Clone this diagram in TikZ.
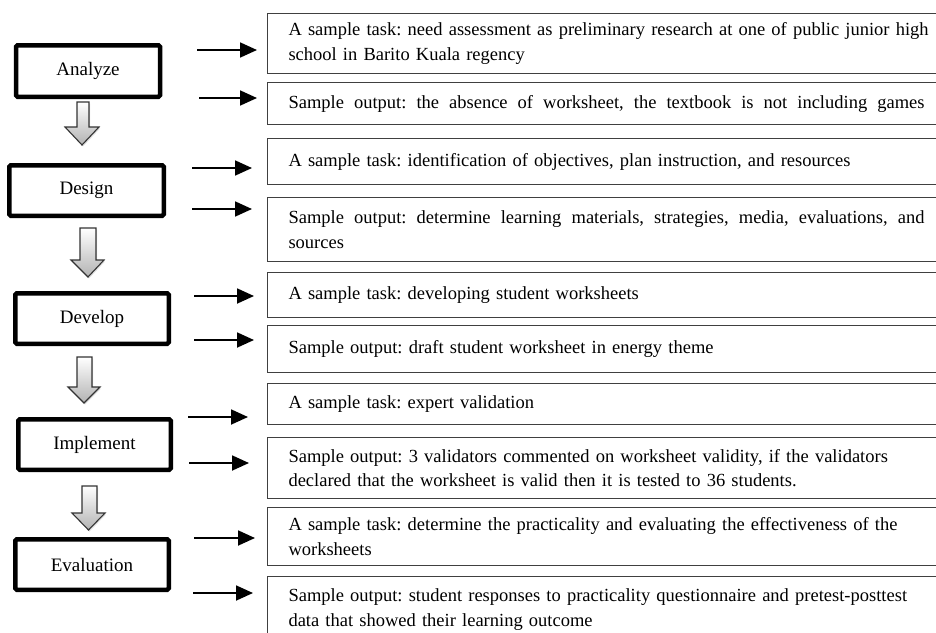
\documentclass[tikz,border=0pt]{standalone}
\usepackage{fontspec}
\setmainfont{Liberation Serif}
\usetikzlibrary{shadows,arrows.meta}
\begin{document}
\begin{tikzpicture}[x=1pt,y=-1pt,
  phase/.style={draw=black, line width=4.5pt, rounded corners=1.5pt, fill=white,
    font=\fontsize{19}{22}\selectfont, inner sep=0pt,
    drop shadow={shadow xshift=1.5pt, shadow yshift=-1.5pt, opacity=0.3}},
  rbox/.style={draw=black!75, line width=1pt, anchor=north west, fill=white,
    text width=655pt, inner xsep=21pt, inner ysep=0pt,
    font=\fontsize{18.5}{24.5}\selectfont\frenchspacing, align=left},
  jbox/.style={rbox, text width=636pt, align=justify},
  rarrow/.style={line width=1.8pt, -{Triangle[length=17pt,width=15pt]}},
  downarrow/.style={draw=black!80, line width=1.1pt, top color=white, bottom color=black!30,
    drop shadow={shadow xshift=1pt, shadow yshift=-1.5pt, opacity=0.25}}
]
\useasboundingbox (0,0) rectangle (936,632);
\clip (0,0) rectangle (936,632);

% left phase boxes
\node[phase, minimum width=144pt, minimum height=51.5pt] (an) at (88,71) {Analyze};
\node[phase, minimum width=154.5pt, minimum height=50.5pt] (de) at (86.5,190.5) {Design};
\node[phase, minimum width=153.5pt, minimum height=50.5pt] (dv) at (92,318.5) {Develop};
\node[phase, minimum width=152.5pt, minimum height=50.5pt] (im) at (94.5,444.5) {Implement};
\node[phase, minimum width=153.5pt, minimum height=50.5pt] (ev) at (92,564.5) {Evaluation};

% down block arrows
\path[downarrow] (77,102) -- (89,102) -- (89,127) -- (99,127) -- (82,145) -- (65,127) -- (77,127) -- cycle;
\path[downarrow] (80,228) -- (96,228) -- (96,260) -- (104,260) -- (88,277) -- (71,260) -- (80,260) -- cycle;
\path[downarrow] (77,357) -- (92,357) -- (92,387) -- (100,387) -- (84,403) -- (68,387) -- (77,387) -- cycle;
\path[downarrow] (82,486) -- (97,486) -- (97,513) -- (105,513) -- (88.5,530) -- (72,513) -- (82,513) -- cycle;

% right boxes
\node[rbox, minimum height=60pt] (t1) at (267,13) {A sample task: need assessment as preliminary research at one of public junior high\\school in Barito Kuala regency};
\node[jbox, minimum height=42pt] (o1) at (267,82) {\parfillskip=0pt Sample output: the absence of worksheet, the textbook is not including games\par};
\node[rbox, minimum height=46pt] (t2) at (267,138) {A sample task: identification of objectives, plan instruction, and resources};
\node[jbox, minimum height=64pt] (o2) at (267,197) {Sample output: determine learning materials, strategies, media, evaluations, and\linebreak sources};
\node[rbox, minimum height=45pt] (t3) at (267,272) {A sample task: developing student worksheets};
\node[rbox, minimum height=47pt] (o3) at (267,325) {Sample output: draft student worksheet in energy theme};
\node[rbox, minimum height=41pt] (t4) at (267,383) {A sample task: expert validation};
\node[rbox, minimum height=61pt] (o4) at (267,437) {Sample output: 3 validators commented on worksheet validity, if the validators\\declared that the worksheet is valid then it is tested to 36 students.};
\node[rbox, minimum height=58pt] (t5) at (267,507) {A sample task: determine the practicality and evaluating the effectiveness of the\\worksheets};
\node[rbox, minimum height=66pt] (o5) at (267,576) {Sample output: student responses to practicality questionnaire and pretest-posttest\\data that showed their learning outcome};

% right arrows
\coordinate (a1s) at (197,50);  \coordinate (a1e) at (257,50);
\coordinate (b1s) at (199,98);  \coordinate (b1e) at (257,98);
\coordinate (a2s) at (192,168); \coordinate (a2e) at (252,168);
\coordinate (b2s) at (192,209); \coordinate (b2e) at (252,209);
\coordinate (a3s) at (194,296); \coordinate (a3e) at (254,296);
\coordinate (b3s) at (194,340); \coordinate (b3e) at (254,340);
\coordinate (a4s) at (188,417); \coordinate (a4e) at (248,417);
\coordinate (b4s) at (189,463); \coordinate (b4e) at (249,463);
\coordinate (a5s) at (194,538); \coordinate (a5e) at (255,538);
\coordinate (b5s) at (193,593); \coordinate (b5e) at (253,593);
\foreach \p in {a1,b1,a2,b2,a3,b3,a4,b4,a5,b5}
  \draw[rarrow] (\p s) -- (\p e);
\end{tikzpicture}
\end{document}
